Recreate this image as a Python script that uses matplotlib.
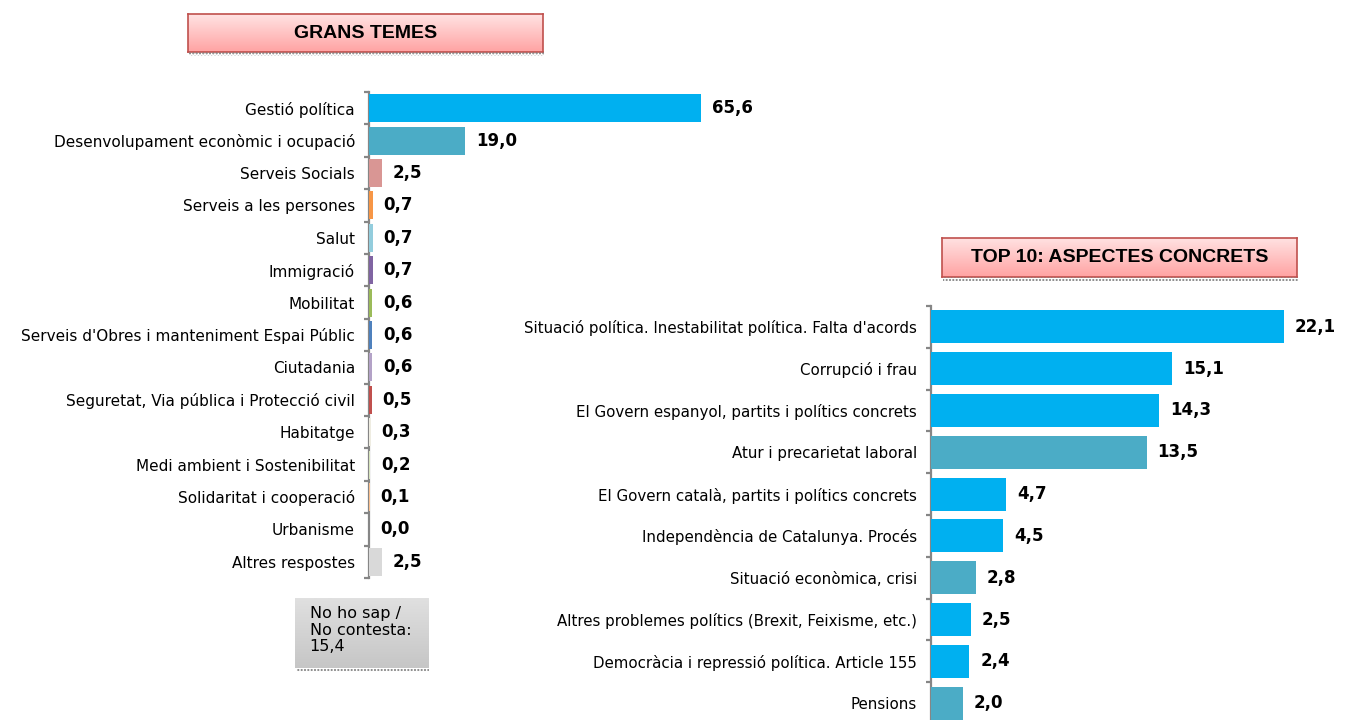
import matplotlib
matplotlib.use('Agg')
import matplotlib.pyplot as plt
import numpy as np

W, H = 1348, 720

# left chart: grans temes
temes = ['Gestió política', 'Desenvolupament econòmic i ocupació', 'Serveis Socials',
         'Serveis a les persones', 'Salut', 'Immigració', 'Mobilitat',
         "Serveis d'Obres i manteniment Espai Públic", 'Ciutadania',
         'Seguretat, Via pública i Protecció civil', 'Habitatge',
         'Medi ambient i Sostenibilitat', 'Solidaritat i cooperació', 'Urbanisme',
         'Altres respostes']
temes_vals = [65.6, 19.0, 2.5, 0.7, 0.7, 0.7, 0.6, 0.6, 0.6, 0.5, 0.3, 0.2, 0.1, 0.0, 2.5]
temes_colors = ['#00B0F0', '#4BACC6', '#D99694', '#F79646', '#93CDDD', '#8064A2',
                '#9BBB59', '#4F81BD', '#B3A2C7', '#C0504D', '#EEECE1', '#D7E4BD',
                '#FAC090', '#FFFFFF', '#D9D9D9']

# right chart: top 10 aspectes concrets
aspectes = ["Situació política. Inestabilitat política. Falta d'acords",
            'Corrupció i frau', 'El Govern espanyol, partits i polítics concrets',
            'Atur i precarietat laboral', 'El Govern català, partits i polítics concrets',
            'Independència de Catalunya. Procés', 'Situació econòmica, crisi',
            'Altres problemes polítics (Brexit, Feixisme, etc.)',
            'Democràcia i repressió política. Article 155', 'Pensions']
aspectes_vals = [22.1, 15.1, 14.3, 13.5, 4.7, 4.5, 2.8, 2.5, 2.4, 2.0]
aspectes_colors = ['#00B0F0', '#00B0F0', '#00B0F0', '#4BACC6', '#00B0F0', '#00B0F0',
                   '#4BACC6', '#00B0F0', '#00B0F0', '#4BACC6']

no_sap = 15.4


def box(fig, x0, y0, x1, y1):
    """axes in pixel coords (top-left origin)"""
    return fig.add_axes([x0 / W, 1 - y1 / H, (x1 - x0) / W, (y1 - y0) / H])


def fmt(v):
    return '{:.1f}'.format(v).replace('.', ',')


def barChart(fig, x0, y0, y1, width_px, scale, labels, vals, colors, barh, lblsize):
    ax = box(fig, x0, y0, x0 + width_px, y1)
    n = len(labels)
    pos = np.arange(n)
    ax.barh(pos, vals, height=barh, color=colors, edgecolor='none', zorder=3)
    ax.set_xlim(0, width_px / scale)
    ax.set_ylim(n - 0.5, -0.5)
    for s in ['top', 'right', 'bottom']:
        ax.spines[s].set_visible(False)
    ax.spines['left'].set_color('#868686')
    ax.spines['left'].set_linewidth(1.6)
    ax.set_xticks([])
    ax.set_yticks(np.arange(n + 1) - 0.5)
    ax.set_yticklabels([])
    ax.set_yticks(pos, minor=True)
    ax.set_yticklabels(labels, minor=True, fontsize=lblsize)
    ax.tick_params(axis='y', which='major', length=3.8, width=1.6, color='#868686')
    ax.tick_params(axis='y', which='minor', length=0, pad=10)
    ax.patch.set_alpha(0)
    for p, v in zip(pos, vals):
        ax.annotate(fmt(v), (v, p), xytext=(11, 0), textcoords='offset pixels',
                    ha='left', va='center', fontsize=12, fontweight='bold')
    return ax


def gradBox(fig, x0, y0, x1, y1, top, bottom, edge):
    ax = box(fig, x0, y0, x1, y1)
    c0 = np.array(matplotlib.colors.to_rgb(top))
    c1 = np.array(matplotlib.colors.to_rgb(bottom))
    t = np.linspace(0, 1, 64)[:, None, None]
    img = c0 * (1 - t) + c1 * t
    ax.imshow(img, aspect='auto', extent=[0, 1, 0, 1], interpolation='bilinear')
    ax.set_xlim(0, 1)
    ax.set_ylim(0, 1)
    ax.set_xticks([])
    ax.set_yticks([])
    for s in ax.spines.values():
        if edge is None:
            s.set_visible(False)
        else:
            s.set_color(edge)
            s.set_linewidth(1.2)
    # dotted shadow underneath
    sh = box(fig, x0 + 1, y1, x1 + 1, y1 + 4)
    sh.set_facecolor('#B4B4B4')
    sh.fill_between([0, 1], 0, 1, facecolor='none', edgecolor='#7A7A7A', hatch='.....', linewidth=0)
    sh.set_xlim(0, 1)
    sh.set_ylim(0, 1)
    sh.axis('off')
    sh.patch.set_visible(True)
    return ax


fig = plt.figure(figsize=(W / 100, H / 100), dpi=100)

barChart(fig, 369, 92, 578, 420, 5.06, temes, temes_vals, temes_colors, 0.86, 11)
barChart(fig, 931, 306, 724, 400, 15.97, aspectes, aspectes_vals, aspectes_colors, 0.79, 10.8)

t1 = gradBox(fig, 188, 14, 543, 52, '#FFE3E3', '#FFA3A3', '#C0504D')
t1.text(0.5, 0.5, 'GRANS TEMES', ha='center', va='center', fontsize=14,
        fontweight='bold', family='Liberation Sans', transform=t1.transAxes)

t2 = gradBox(fig, 942, 238, 1297, 277, '#FFE3E3', '#FFA3A3', '#C0504D')
t2.text(0.5, 0.5, 'TOP 10: ASPECTES CONCRETS', ha='center', va='center', fontsize=14,
        fontweight='bold', family='Liberation Sans', transform=t2.transAxes)

nb = gradBox(fig, 295, 598, 428, 668, '#E0E0E0', '#C6C6C6', None)
nb.text(0.11, 0.88, 'No ho sap /\nNo contesta:\n' + fmt(no_sap), ha='left', va='top',
        fontsize=11.5, linespacing=1.1, transform=nb.transAxes)

plt.savefig('out.png', dpi=100)
